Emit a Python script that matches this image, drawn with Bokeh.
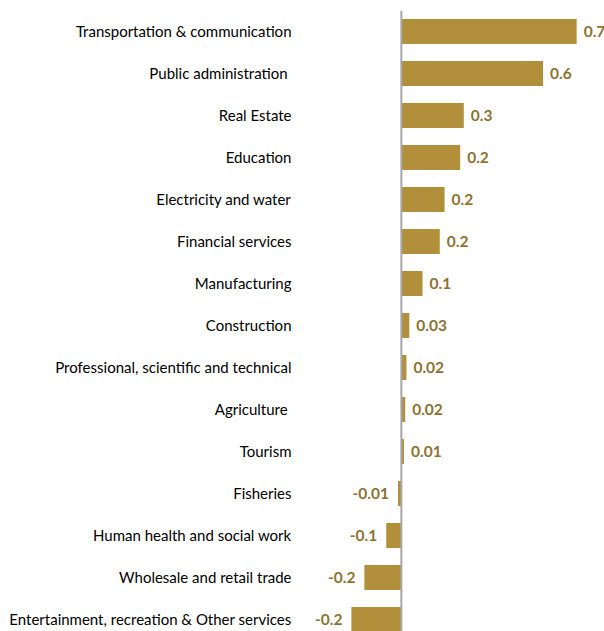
from bokeh.plotting import figure
from bokeh.models import ColumnDataSource, Range1d, FixedTicker, Span
from bokeh.core.properties import value
from bokeh.embed import file_html
from bokeh.resources import INLINE

sectors = [
    "Transportation & communication",
    "Public administration ",
    "Real Estate",
    "Education",
    "Electricity and water",
    "Financial services",
    "Manufacturing",
    "Construction",
    "Professional, scientific and technical",
    "Agriculture ",
    "Tourism",
    "Fisheries",
    "Human health and social work",
    "Wholesale and retail trade",
    "Entertainment, recreation & Other services",
]
values = [0.73, 0.59, 0.26, 0.245, 0.18, 0.16, 0.088, 0.033, 0.021, 0.016, 0.011,
          -0.014, -0.063, -0.154, -0.208]
value_labels = ["0.7", "0.6", "0.3", "0.2", "0.2", "0.2", "0.1", "0.03", "0.02", "0.02",
                "0.01", "-0.01", "-0.1", "-0.2", "-0.2"]

BAR = "#B18F3B"
LAB = "#8C7232"
FONT = "Lato"

pos = list(range(len(sectors)))
src = ColumnDataSource(dict(
    y=pos,
    v=values,
    lab=value_labels,
    align=["left" if v >= 0 else "right" for v in values],
    xoff=[7 if v >= 0 else -9 for v in values],
))

p = figure(width=604, height=631, output_backend="svg", toolbar_location=None,
           x_range=Range1d(-0.42, 0.846), y_range=Range1d(14.286, -0.5),
           min_border_left=300, min_border_right=0, min_border_top=10, min_border_bottom=0)
p.outline_line_color = None
p.background_fill_color = "white"
p.border_fill_color = "white"
p.grid.visible = False
p.xaxis.visible = False

p.hbar(y="y", right="v", left=0, height=0.6, source=src, fill_color=BAR, line_color=None)
p.add_layout(Span(location=0, dimension="height", line_color="#A6A6A6", line_width=2))

p.text(x="v", y="y", text="lab", source=src, x_offset="xoff", text_align="align",
       text_baseline="middle", text_font=value(FONT), text_font_size="15.5px",
       text_font_style="bold", text_color=LAB)

ya = p.yaxis[0]
ya.ticker = FixedTicker(ticks=pos)
ya.major_label_overrides = {i: s for i, s in enumerate(sectors)}
ya.major_tick_out = 0
ya.major_tick_in = 0
ya.minor_tick_out = 0
ya.minor_tick_in = 0
ya.axis_line_color = None
ya.major_label_standoff = 9
ya.major_label_text_font = FONT
ya.major_label_text_font_size = "15px"
ya.major_label_text_color = "#000000"

open("out.html", "w").write(file_html(p, INLINE))
